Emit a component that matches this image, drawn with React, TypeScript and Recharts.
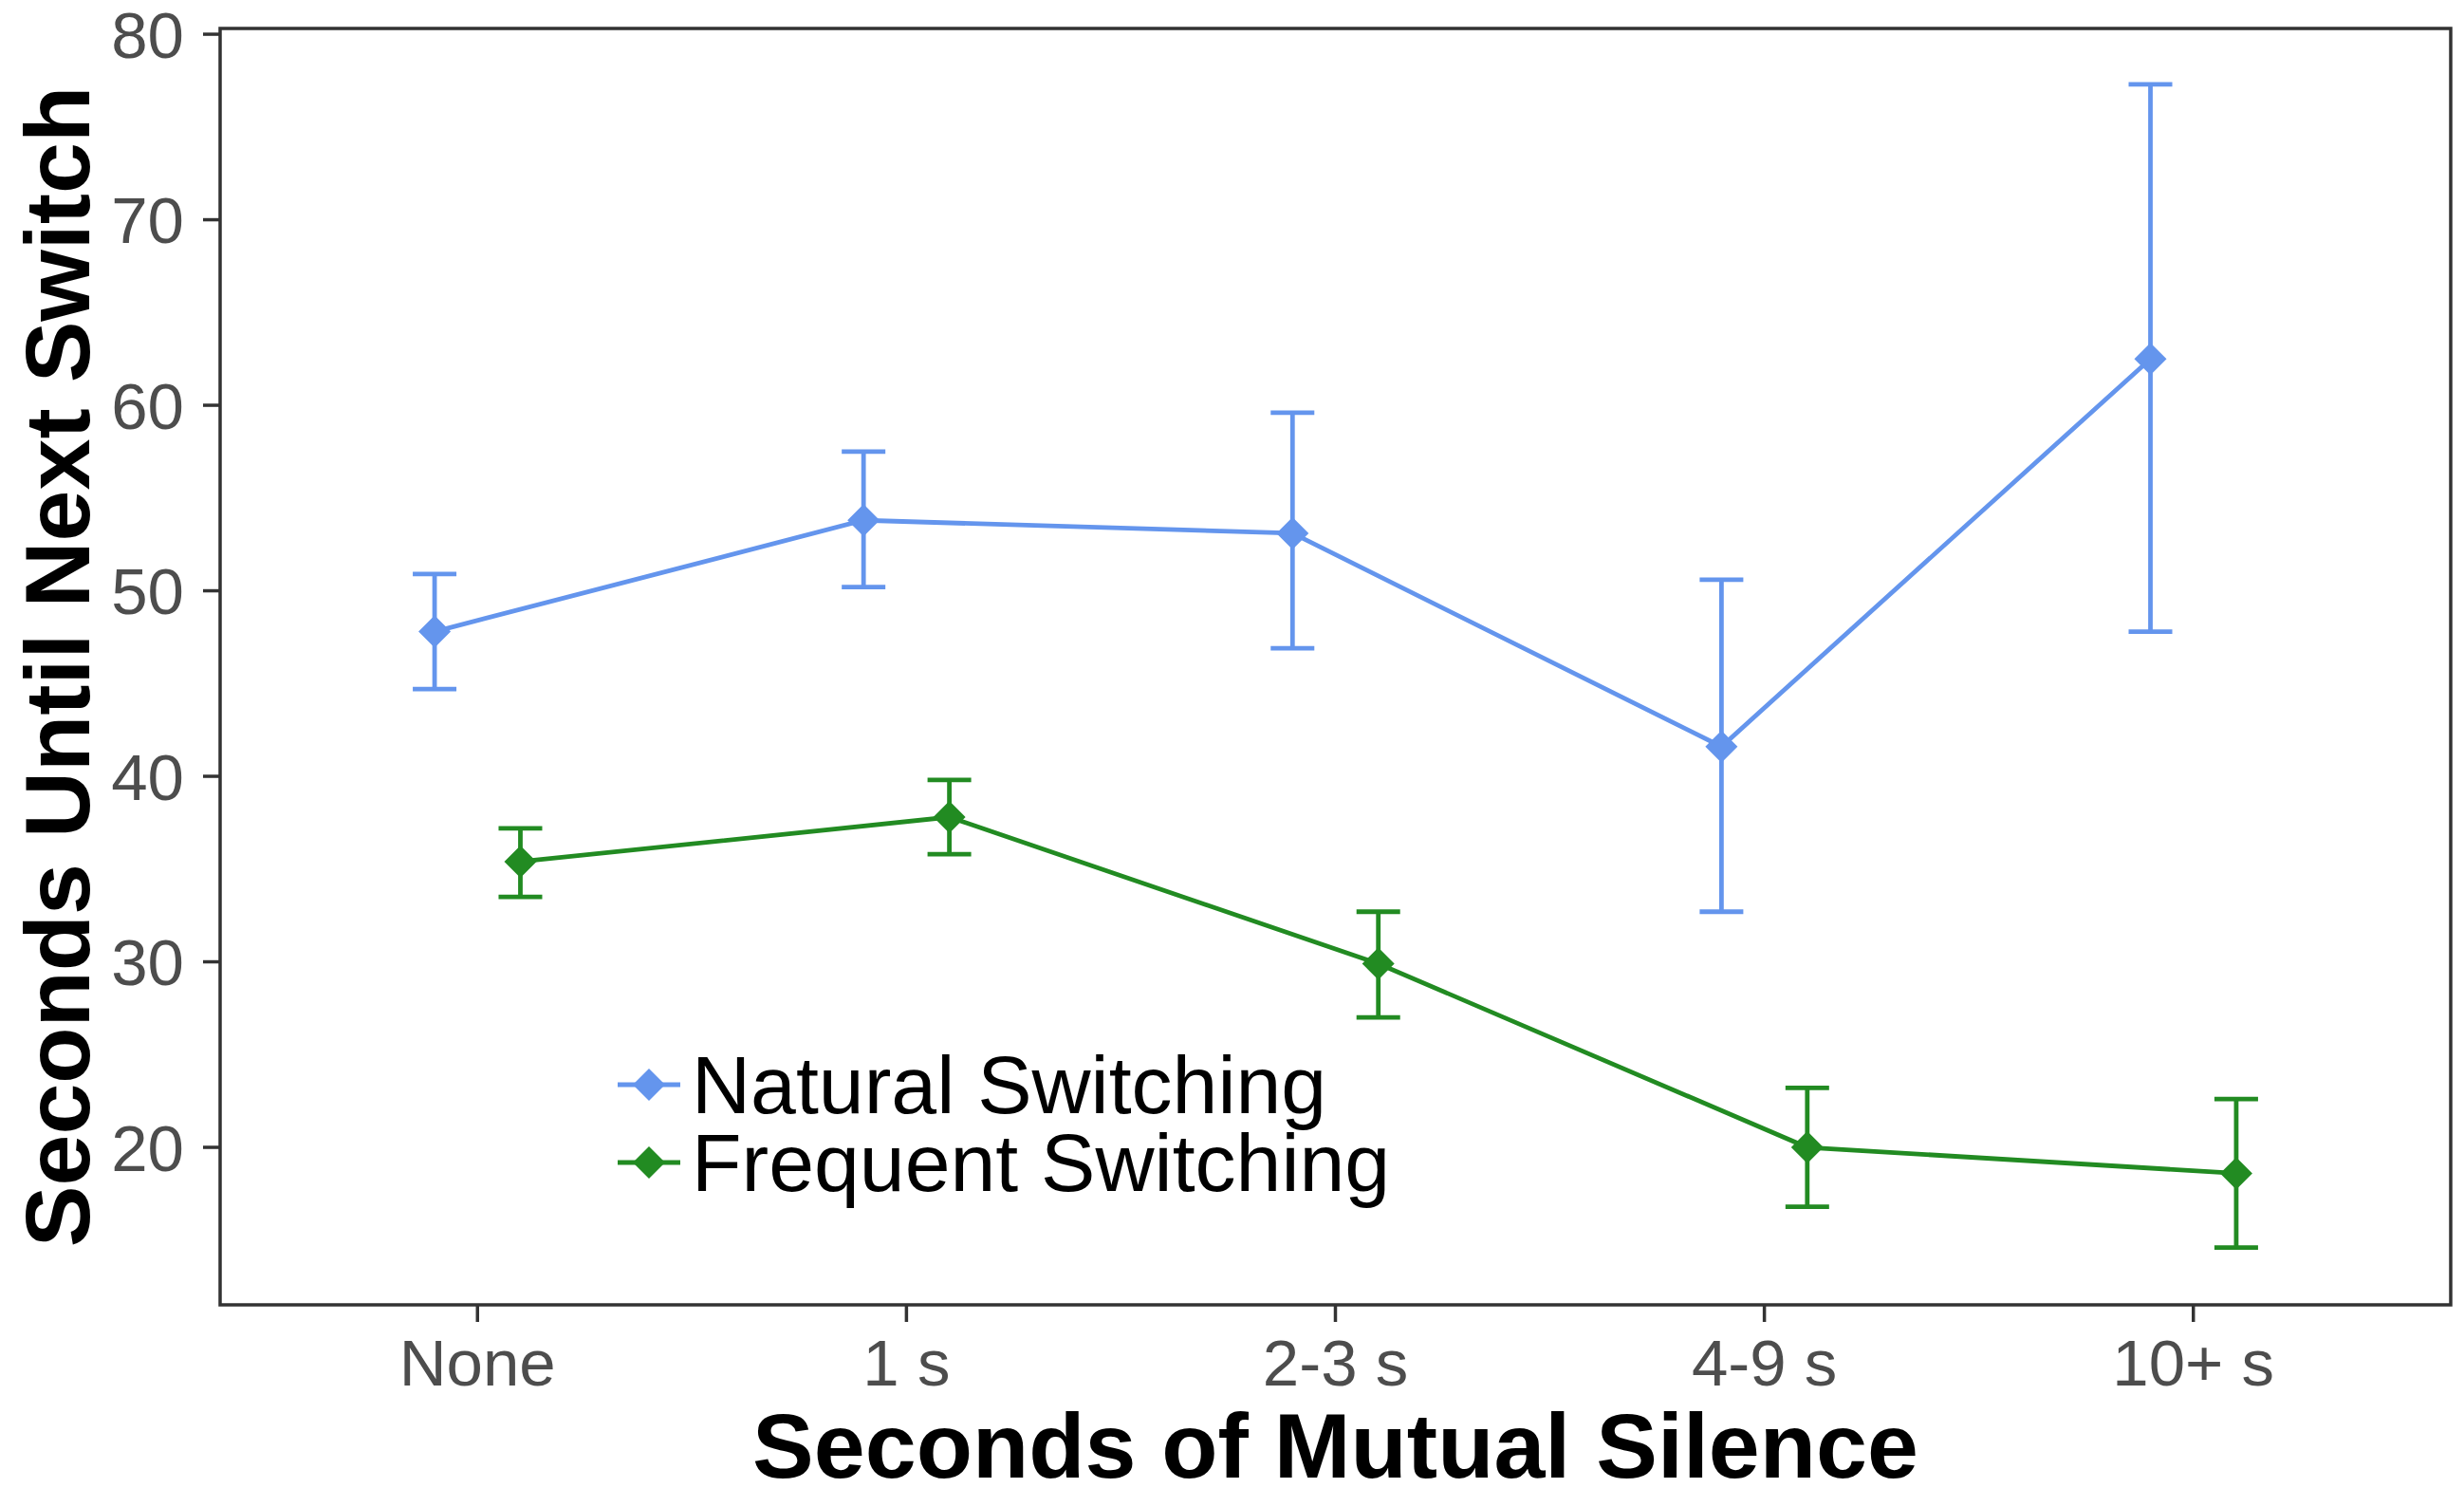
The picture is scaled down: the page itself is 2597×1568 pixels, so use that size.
import React from 'react';
import { ComposedChart, Line, XAxis, YAxis, ErrorBar, ReferenceArea, Legend } from 'recharts';

const categories = ['None', '1 s', '2-3 s', '4-9 s', '10+ s'];
const naturalMean = [47.8, 53.8, 53.1, 41.6, 62.5];
const naturalLow = [44.7, 50.2, 46.9, 32.7, 47.8];
const naturalHigh = [50.9, 57.5, 59.6, 50.6, 77.3];
const frequentMean = [35.4, 37.8, 29.9, 20.0, 18.6];
const frequentLow = [33.5, 35.8, 27.0, 16.8, 14.6];
const frequentHigh = [37.2, 39.8, 32.7, 23.2, 22.6];
const yTicks = [20, 30, 40, 50, 60, 70, 80];
const xTicks = [1, 2, 3, 4, 5];
const seriesNames = ['Natural Switching', 'Frequent Switching'];
const seriesColors = ['#6495ED', '#228B22'];

const Y_DOMAIN: [number, number] = [11.51, 80.31];
const X_DOMAIN: [number, number] = [0.4, 5.6];
const DODGE = 0.1;
const FONT = '"Liberation Sans", Arial, Helvetica, sans-serif';
const LW = 4.8;

const build = (means: number[], lows: number[], highs: number[], shift: number) =>
  categories.map((c, i) => ({
    x: i + 1 + shift,
    cat: c,
    y: means[i],
    err: [means[i] - lows[i], highs[i] - means[i]],
  }));

const naturalData = build(naturalMean, naturalLow, naturalHigh, -DODGE);
const frequentData = build(frequentMean, frequentLow, frequentHigh, DODGE);

const diamondPath = (cx: number, cy: number, hw = 17, hh = 17) =>
  `M${cx},${cy - hh} L${cx + hw},${cy} L${cx},${cy + hh} L${cx - hw},${cy} Z`;

const makeDot = (color: string, tag: string) => (props: any) => {
  const { cx, cy, index } = props;
  if (cx == null || cy == null) return <g key={`${tag}-${index}`} />;
  return <path key={`${tag}-${index}`} d={diamondPath(cx, cy)} fill={color} />;
};

const YTitle = (props: any) => {
  const vb = props.viewBox || { x: 0, y: 30, width: 232, height: 1345 };
  const cx = vb.x + 94;
  const cy = vb.y + vb.height / 2;
  return (
    <text
      x={cx}
      y={cy}
      transform={`rotate(-90 ${cx} ${cy})`}
      textAnchor="middle"
      fontSize={97}
      fontWeight="bold"
      fontFamily={FONT}
      fill="#000"
    >
      Seconds Until Next Switch
    </text>
  );
};

const XTitle = (props: any) => {
  const vb = props.viewBox || { x: 232, y: 1375, width: 2351, height: 193 };
  return (
    <text
      x={vb.x + vb.width / 2}
      y={vb.y + 182}
      textAnchor="middle"
      fontSize={97}
      fontWeight="bold"
      fontFamily={FONT}
      fill="#000"
    >
      Seconds of Mutual Silence
    </text>
  );
};

const LegendBox = () => (
  <div style={{ fontFamily: FONT, fontSize: 86, color: '#000', lineHeight: '82px' }}>
    {seriesNames.map((name, i) => (
      <div key={name} style={{ display: 'flex', alignItems: 'center', height: 82 }}>
        <svg width={66} height={82} style={{ display: 'block' }}>
          <line x1={0} x2={66} y1={41} y2={41} stroke={seriesColors[i]} strokeWidth={LW} />
          <path d={diamondPath(33, 41)} fill={seriesColors[i]} />
        </svg>
        <span style={{ marginLeft: 12, whiteSpace: 'nowrap' }}>{name}</span>
      </div>
    ))}
  </div>
);

export default function App() {
  const tickStyle = { fill: '#4D4D4D', fontSize: 69, fontFamily: FONT };
  return (
    <div style={{ position: 'absolute', left: 0, top: 0, width: 2597, height: 1568, background: '#fff' }}>
      <ComposedChart width={2597} height={1568} margin={{ top: 30, right: 14, bottom: 0, left: 0 }}>
        <XAxis
          type="number"
          dataKey="x"
          domain={X_DOMAIN}
          allowDataOverflow
          ticks={xTicks}
          interval={0}
          tickFormatter={(v: number) => categories[Math.round(v) - 1] ?? ''}
          height={193}
          axisLine={false}
          tickLine={{ stroke: '#333333', strokeWidth: 3.5 }}
          tickSize={18}
          tickMargin={18}
          tick={tickStyle}
          label={<XTitle />}
        />
        <YAxis
          type="number"
          domain={Y_DOMAIN}
          allowDataOverflow
          ticks={yTicks}
          interval={0}
          width={232}
          axisLine={false}
          tickLine={{ stroke: '#333333', strokeWidth: 3.5 }}
          tickSize={18}
          tickMargin={20}
          tick={tickStyle}
          label={<YTitle />}
        />
        <ReferenceArea
          x1={X_DOMAIN[0]}
          x2={X_DOMAIN[1]}
          y1={Y_DOMAIN[0]}
          y2={Y_DOMAIN[1]}
          fill="none"
          fillOpacity={0}
          stroke="#333333"
          strokeWidth={3.5}
          ifOverflow="visible"
        />
        <Line
          data={naturalData}
          dataKey="y"
          name={seriesNames[0]}
          type="linear"
          stroke={seriesColors[0]}
          strokeWidth={LW}
          dot={makeDot(seriesColors[0], 'n')}
          activeDot={false}
          isAnimationActive={false}
        >
          <ErrorBar dataKey="err" direction="y" width={23} stroke={seriesColors[0]} strokeWidth={LW} isAnimationActive={false} />
        </Line>
        <Line
          data={frequentData}
          dataKey="y"
          name={seriesNames[1]}
          type="linear"
          stroke={seriesColors[1]}
          strokeWidth={LW}
          dot={makeDot(seriesColors[1], 'f')}
          activeDot={false}
          isAnimationActive={false}
        >
          <ErrorBar dataKey="err" direction="y" width={23} stroke={seriesColors[1]} strokeWidth={LW} isAnimationActive={false} />
        </Line>
        <Legend
          layout="vertical"
          align="center"
          verticalAlign="middle"
          wrapperStyle={{ left: 651, top: 1102, width: 900 }}
          content={() => <LegendBox />}
        />
      </ComposedChart>
    </div>
  );
}
